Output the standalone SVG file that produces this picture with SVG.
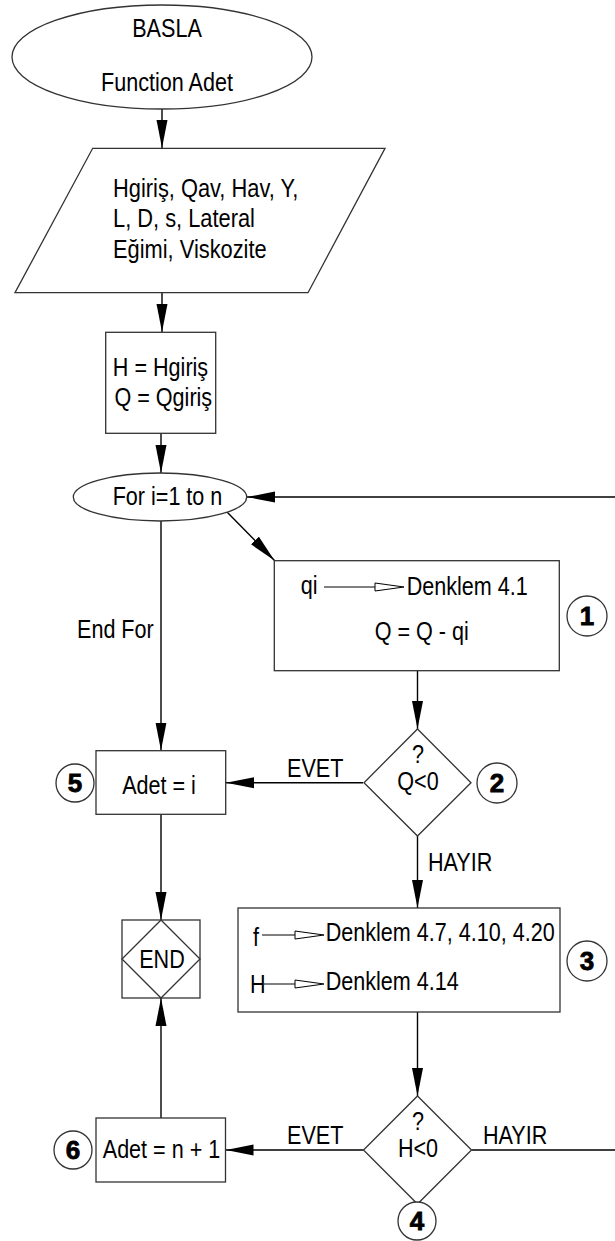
<svg xmlns="http://www.w3.org/2000/svg" width="615" height="1241" viewBox="0 0 615 1241">
<style>
.n{fill:#fff;stroke:#333;stroke-width:1.3}
.c{stroke:#000;stroke-width:1.4;fill:none}
.t{font-family:"Liberation Sans",Arial,sans-serif;font-size:26px;fill:#000}
.m{text-anchor:middle}
.num{font-family:"Liberation Sans",Arial,sans-serif;font-size:26px;font-weight:bold;text-anchor:middle;fill:#000;stroke:#000;stroke-width:0.8}
.h{fill:#fff;stroke:#000;stroke-width:1}
</style>
<defs>
<marker id="ah" viewBox="0 -6 28 12" refX="28" refY="0" markerWidth="28" markerHeight="12" markerUnits="userSpaceOnUse" orient="auto">
<path d="M0,-5.5 L28,0 L0,5.5 Z" fill="#000"/>
</marker>
</defs>
<rect width="615" height="1241" fill="#fff"/>
<g id="connectors">
<path class="c" d="M162,108 L162,148" marker-end="url(#ah)"/>
<path class="c" d="M162,293 L162,332" marker-end="url(#ah)"/>
<path class="c" d="M161,433 L161,473" marker-end="url(#ah)"/>
<path class="c" d="M615,497 L247,497" marker-end="url(#ah)"/>
<path class="c" d="M227,512 L274.5,560.5" marker-end="url(#ah)"/>
<path class="c" d="M161,521 L161,750.5" marker-end="url(#ah)"/>
<path class="c" d="M417.5,671 L417.5,729" marker-end="url(#ah)"/>
<path class="c" d="M363,782.7 L226,782.7" marker-end="url(#ah)"/>
<path class="c" d="M161,814 L161,920" marker-end="url(#ah)"/>
<path class="c" d="M417.5,836 L417.5,908" marker-end="url(#ah)"/>
<path class="c" d="M417.5,1012 L417.5,1096" marker-end="url(#ah)"/>
<path class="c" d="M363.5,1150 L225.5,1150" marker-end="url(#ah)"/>
<path class="c" d="M471.5,1150 L615,1150"/>
<path class="c" d="M161,1118 L161,998" marker-end="url(#ah)"/>
<text class="t" transform="translate(287,777) scale(0.83,1)">EVET</text>
<text class="t" transform="translate(428,871) scale(0.83,1)">HAYIR</text>
<text class="t" transform="translate(287,1144) scale(0.83,1)">EVET</text>
<text class="t" transform="translate(483,1144) scale(0.83,1)">HAYIR</text>
<text class="t" transform="translate(77,638) scale(0.83,1)">End For</text>
</g>
<g id="start">
<ellipse class="n" cx="162" cy="57" rx="150" ry="52"/>
<text class="t m" transform="translate(167,37) scale(0.83,1)">BASLA</text>
<text class="t m" transform="translate(167,91) scale(0.83,1)">Function Adet</text>
</g>
<g id="input">
<polygon class="n" points="92.7,148.3 385,148.3 308,292.7 15,292.7"/>
<text class="t" transform="translate(113,197) scale(0.84,1)">Hgiriş, Qav, Hav, Y,</text>
<text class="t" transform="translate(113,227) scale(0.84,1)">L, D, s, Lateral</text>
<text class="t" transform="translate(113,258) scale(0.84,1)">Eğimi, Viskozite</text>
</g>
<g id="init">
<rect class="n" x="105.7" y="332.3" width="110" height="101"/>
<text class="t m" transform="translate(160.5,376) scale(0.83,1)">H = Hgiriş</text>
<text class="t m" transform="translate(163.3,406) scale(0.83,1)">Q = Qgiriş</text>
</g>
<g id="loop">
<ellipse class="n" cx="160" cy="497" rx="86.7" ry="24"/>
<text class="t m" transform="translate(167.5,505) scale(0.83,1)">For i=1 to n</text>
</g>
<g id="step1">
<rect class="n" x="274.3" y="560.7" width="285" height="110"/>
<text class="t" transform="translate(300.7,594) scale(0.83,1)">qi</text>
<path class="c" d="M324,587 L375,587" style="stroke-width:1"/>
<polygon class="h" points="375,583 404,587 375,591"/>
<text class="t" transform="translate(406.7,595) scale(0.83,1)">Denklem 4.1</text>
<text class="t m" transform="translate(421.7,640) scale(0.83,1)">Q = Q - qi</text>
<circle class="n" cx="587" cy="616" r="20"/>
<text class="num" x="587" y="625">1</text>
</g>
<g id="dec2">
<polygon class="n" points="417.5,729 471,782.7 417.5,836 364,782.7"/>
<text class="t m" transform="translate(418,763) scale(0.83,1)">?</text>
<text class="t m" transform="translate(418,790) scale(0.83,1)">Q&lt;0</text>
<circle class="n" cx="497" cy="783" r="20"/>
<text class="num" x="497" y="792">2</text>
</g>
<g id="step5">
<rect class="n" x="96" y="750.7" width="129.7" height="63.6"/>
<text class="t m" transform="translate(159,794) scale(0.83,1)">Adet = i</text>
<circle class="n" cx="75" cy="783" r="19"/>
<text class="num" x="75" y="792">5</text>
</g>
<g id="end">
<rect class="n" x="122" y="920" width="78" height="78"/>
<polygon class="n" points="161,920 200,959 161,998 122,959"/>
<text class="t m" transform="translate(162,968) scale(0.83,1)">END</text>
</g>
<g id="step3">
<rect class="n" x="238" y="908" width="322" height="104"/>
<text class="t" transform="translate(253,946) scale(0.83,1)">f</text>
<path class="c" d="M262,935 L295,935" style="stroke-width:1"/>
<polygon class="h" points="295,931 324,935 295,939"/>
<text class="t" transform="translate(325.7,941) scale(0.83,1)">Denklem 4.7, 4.10, 4.20</text>
<text class="t" transform="translate(250,993) scale(0.83,1)">H</text>
<path class="c" d="M264,984 L295,984" style="stroke-width:1"/>
<polygon class="h" points="295,980 324,984 295,988"/>
<text class="t" transform="translate(325.7,990) scale(0.83,1)">Denklem 4.14</text>
<circle class="n" cx="587" cy="961" r="20"/>
<text class="num" x="587" y="970">3</text>
</g>
<g id="dec4">
<polygon class="n" points="417.5,1096 471.5,1150 417.5,1204 363.5,1150"/>
<text class="t m" transform="translate(418,1130) scale(0.83,1)">?</text>
<text class="t m" transform="translate(418,1157) scale(0.83,1)">H&lt;0</text>
<circle class="n" cx="417" cy="1221" r="19"/>
<text class="num" x="417" y="1230">4</text>
</g>
<g id="step6">
<rect class="n" x="96" y="1118" width="129.5" height="64"/>
<text class="t m" transform="translate(161.5,1158) scale(0.83,1)">Adet = n + 1</text>
<circle class="n" cx="73" cy="1150" r="19"/>
<text class="num" x="73" y="1159">6</text>
</g>
</svg>
